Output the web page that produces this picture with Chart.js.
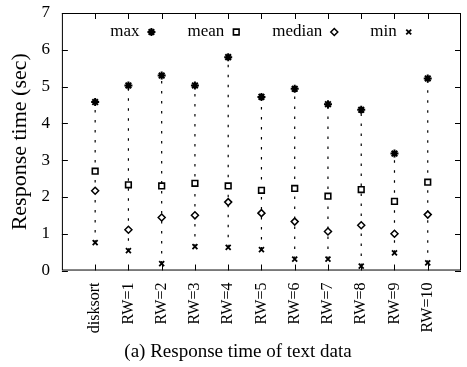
<!DOCTYPE html>
<html>
<head>
<meta charset="utf-8">
<script src="https://cdn.jsdelivr.net/npm/chart.js@4"></script>
<style>
  body { margin: 0; background: #fff; }
  #wrap { width: 467px; height: 367px; }
</style>
</head>
<body>
<div id="wrap"><canvas id="resp-time"></canvas></div>
<script>
// categories along the x axis
var categories = ['disksort', 'RW=1', 'RW=2', 'RW=3', 'RW=4', 'RW=5', 'RW=6', 'RW=7', 'RW=8', 'RW=9', 'RW=10'];
// response times in seconds
var maxTimes    = [4.58, 5.03, 5.30, 5.03, 5.80, 4.72, 4.94, 4.52, 4.37, 3.18, 5.22];
var meanTimes   = [2.70, 2.33, 2.30, 2.37, 2.30, 2.18, 2.23, 2.02, 2.20, 1.88, 2.40];
var medianTimes = [2.17, 1.11, 1.44, 1.50, 1.86, 1.56, 1.33, 1.06, 1.23, 1.00, 1.52];
var minTimes    = [0.76, 0.54, 0.19, 0.65, 0.63, 0.57, 0.31, 0.31, 0.12, 0.48, 0.21];
var yTicks = [0, 1, 2, 3, 4, 5, 6, 7];

function toPoints(arr) {
  return arr.map(function (v, i) { return { x: i, y: v }; });
}

var serif = "'Liberation Serif', 'DejaVu Serif', serif";

var datasets = [
  { label: 'max', data: toPoints(maxTimes), pointStyle: 'star', pointRadius: 4, borderWidth: 2 },
  { label: 'mean', data: toPoints(meanTimes), pointStyle: 'rect', pointRadius: 4, borderWidth: 1.6 },
  { label: 'median', data: toPoints(medianTimes), pointStyle: 'rectRot', pointRadius: 3.5, borderWidth: 1.5 },
  { label: 'min', data: toPoints(minTimes), pointStyle: 'crossRot', pointRadius: 3.5, borderWidth: 1.8 }
].map(function (d) {
  d.showLine = false;
  d.borderColor = '#000';
  d.backgroundColor = d.pointStyle === 'star' ? '#000' : '#fff';
  d.pointBackgroundColor = d.backgroundColor;
  d.pointBorderColor = '#000';
  d.pointBorderWidth = d.borderWidth;
  return d;
});
var markerCount = datasets.length;

// dotted line from min to max for every category
categories.forEach(function (c, i) {
  datasets.push({
    label: '_range',
    data: [{ x: i, y: minTimes[i] }, { x: i, y: maxTimes[i] }],
    showLine: true,
    borderColor: '#000',
    borderWidth: 1.2,
    borderDash: [2.5, 7.5],
    pointRadius: 0
  });
});

// frame, inward ticks and the in-plot key like the original plot
var framePlugin = {
  id: 'frame',
  afterDatasetsDraw: function (chart) {
    var ctx = chart.ctx, a = chart.chartArea;
    var xs = chart.scales.x, ys = chart.scales.y;
    ctx.save();
    ctx.strokeStyle = '#000';
    ctx.lineWidth = 1;
    ctx.strokeRect(a.left + 0.5, a.top + 0.5, a.right - a.left - 1, a.bottom - a.top - 1);
    ctx.beginPath();
    categories.forEach(function (c, i) {
      var px = Math.round(xs.getPixelForValue(i)) + 0.5;
      ctx.moveTo(px, a.bottom); ctx.lineTo(px, a.bottom - 6);
      ctx.moveTo(px, a.top); ctx.lineTo(px, a.top + 6);
    });
    yTicks.forEach(function (v) {
      var py = Math.round(ys.getPixelForValue(v)) + 0.5;
      ctx.moveTo(a.left, py); ctx.lineTo(a.left + 6, py);
      ctx.moveTo(a.right, py); ctx.lineTo(a.right - 6, py);
    });
    ctx.stroke();

    // key: label text followed by its marker
    ctx.font = '17px ' + serif;
    ctx.fillStyle = '#000';
    ctx.textBaseline = 'middle';
    var gap = 12, between = 36;
    var items = datasets.slice(0, markerCount);
    var total = 0;
    items.forEach(function (d, i) {
      total += ctx.measureText(d.label).width + gap + (i < items.length - 1 ? between : 4);
    });
    var x = (a.left + a.right) / 2 - total / 2;
    var y = a.top + 19;
    items.forEach(function (d) {
      ctx.fillText(d.label, x, y);
      x += ctx.measureText(d.label).width + gap;
      ctx.lineWidth = d.borderWidth;
      ctx.strokeStyle = '#000';
      ctx.fillStyle = d.backgroundColor;
      Chart.helpers.drawPoint(ctx, { pointStyle: d.pointStyle, radius: d.pointRadius, borderWidth: d.borderWidth, rotation: 0 }, x, y);
      ctx.fillStyle = '#000';
      x += between;
    });
    ctx.restore();
  }
};

var ctx = document.getElementById('resp-time');
var myChart = new Chart(ctx, {
  type: 'scatter',
  data: { datasets: datasets },
  options: {
    responsive: true,
    maintainAspectRatio: false,
    animation: false,
    layout: { padding: { top: 13, right: -2, left: 7, bottom: 4 } },
    plugins: {
      tooltip: { enabled: false },
      legend: { display: false },
      title: {
        display: true,
        position: 'bottom',
        text: '(a) Response time of text data',
        color: '#000',
        font: { family: serif, size: 19, weight: 'normal' },
        padding: { top: 3, bottom: 0 }
      }
    },
    scales: {
      x: {
        type: 'linear',
        min: -1,
        max: 11,
        grid: { display: false },
        border: { display: false },
        afterFit: function (axis) {
          axis.paddingLeft = 0;
          axis.paddingRight = 0;
        },
        ticks: {
          stepSize: 1,
          autoSkip: false,
          minRotation: 90,
          maxRotation: 90,
          color: '#000',
          padding: 4,
          font: { family: serif, size: 16 },
          callback: function (v) { return categories[v] !== undefined ? categories[v] : ''; }
        }
      },
      y: {
        min: 0,
        max: 7,
        grid: { display: false },
        border: { display: false },
        afterBuildTicks: function (axis) {
          axis.ticks = yTicks.map(function (v) { return { value: v }; });
        },
        afterFit: function (axis) {
          axis.paddingTop = 0;
          axis.paddingBottom = 0;
        },
        ticks: {
          color: '#000',
          padding: 4,
          font: { family: serif, size: 17 }
        },
        title: {
          display: true,
          text: 'Response time (sec)',
          color: '#000',
          padding: { top: 0, bottom: 4 },
          font: { family: serif, size: 22 }
        }
      }
    }
  },
  plugins: [framePlugin]
});
</script>
</body>
</html>
